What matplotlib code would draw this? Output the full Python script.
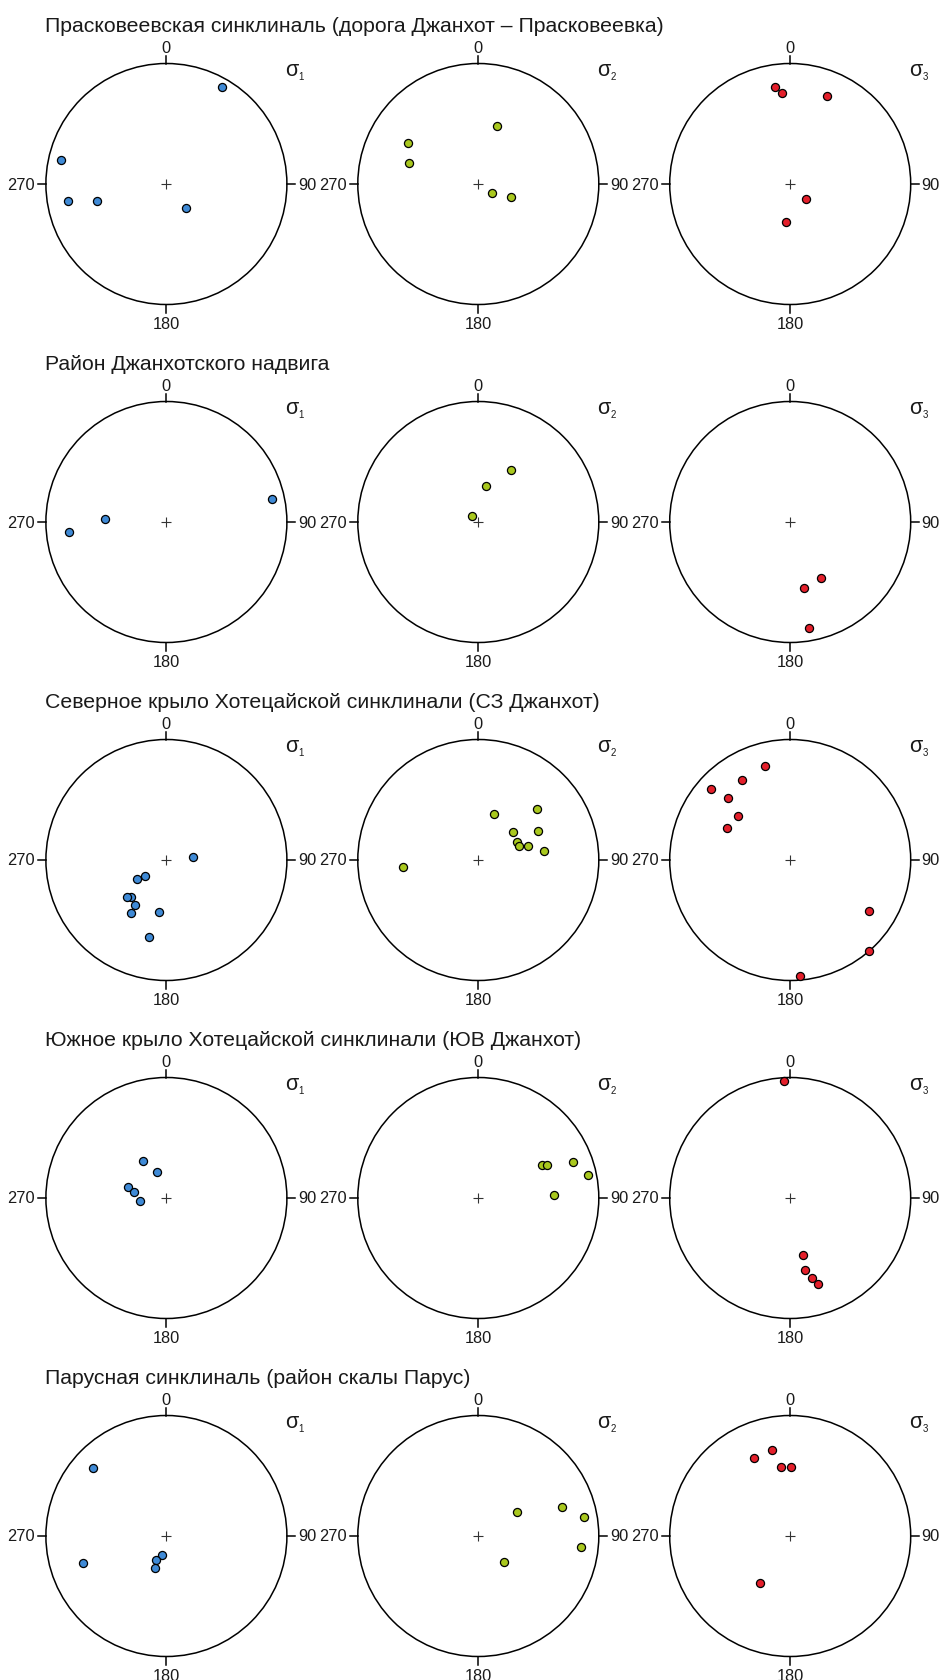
import numpy as np
import matplotlib
matplotlib.use("Agg")
import matplotlib.pyplot as plt
from matplotlib.patches import Circle

plt.rcParams["font.family"] = ["Liberation Sans", "DejaVu Sans"]

# ---- stress axes (trend / plunge, degrees), lower-hemisphere data ----
site_titles = [
    "Прасковеевская синклиналь (дорога Джанхот – Прасковеевка)",
    "Район Джанхотского надвига",
    "Северное крыло Хотецайской синклинали (СЗ Джанхот)",
    "Южное крыло Хотецайской синклинали (ЮВ Джанхот)",
    "Парусная синклиналь (район скалы Парус)",
]

prask_s1_trend = [30, 283, 260, 256, 140]
prask_s1_plunge = [8, 11, 18, 40, 69]
prask_s2_trend = [18, 300, 287, 125, 112]
prask_s2_plunge = [48, 33, 40, 79, 66]
prask_s3_trend = [351, 355, 23, 134, 186]
prask_s3_plunge = [20, 25, 22, 75, 64]

dzh_s1_trend = [273, 264, 78]
dzh_s1_plunge = [48, 20, 11]
dzh_s2_trend = [32, 12, 311]
dzh_s2_plunge = [48, 65, 84]
dzh_s3_trend = [151, 168, 170]
dzh_s3_plunge = [46, 43, 12]

north_s1_trend = [83, 232, 237, 224, 227, 215, 214, 188, 193]
north_s1_plunge = [72, 72, 66, 55, 53, 52, 46, 54, 35]
north_s2_trend = [19, 49, 51, 64, 65, 71, 74, 82, 265]
north_s2_plunge = [57, 36, 60, 44, 61, 61, 55, 44, 37]
north_s3_trend = [345, 329, 312, 315, 310, 297, 123, 139, 175]
north_s3_plunge = [20, 24, 13, 28, 43, 41, 23, 0, 4]

south_s1_trend = [328, 340, 286, 281, 263]
south_s1_plunge = [60, 71, 63, 68, 72]
south_s2_trend = [63, 64, 69, 78, 88]
south_s2_plunge = [40, 37, 17, 8, 37]
south_s3_trend = [357, 167, 168, 165, 162]
south_s3_plunge = [3, 50, 39, 32, 26]

parus_s1_trend = [313, 252, 192, 204, 199]
parus_s1_plunge = [18, 28, 77, 72, 67]
parus_s2_trend = [58, 71, 80, 96, 135]
parus_s2_plunge = [59, 27, 12, 15, 65]
parus_s3_trend = [348, 335, 352, 1, 213]
parus_s3_plunge = [28, 29, 42, 42, 52]

site_data = [
    [(prask_s1_trend, prask_s1_plunge), (prask_s2_trend, prask_s2_plunge), (prask_s3_trend, prask_s3_plunge)],
    [(dzh_s1_trend, dzh_s1_plunge), (dzh_s2_trend, dzh_s2_plunge), (dzh_s3_trend, dzh_s3_plunge)],
    [(north_s1_trend, north_s1_plunge), (north_s2_trend, north_s2_plunge), (north_s3_trend, north_s3_plunge)],
    [(south_s1_trend, south_s1_plunge), (south_s2_trend, south_s2_plunge), (south_s3_trend, south_s3_plunge)],
    [(parus_s1_trend, parus_s1_plunge), (parus_s2_trend, parus_s2_plunge), (parus_s3_trend, parus_s3_plunge)],
]

axis_names = ["1", "2", "3"]
axis_colors = ["#3F8AD6", "#A9C81E", "#E41F2B"]
compass_labels = ["0", "90", "180", "270"]


def schmidt(trend, plunge):
    """Equal-area (Schmidt) lower-hemisphere projection, unit primitive circle."""
    t = np.radians(np.asarray(trend, float))
    p = np.radians(np.asarray(plunge, float))
    r = np.sqrt(2.0) * np.sin((np.pi / 2 - p) / 2.0)
    return r * np.sin(t), r * np.cos(t)


W, H = 941, 1681
fig = plt.figure(figsize=(W / 100, H / 100), dpi=100)
fig.patch.set_facecolor("white")

R_PX = 120.5          # primitive circle radius in pixels
HALF = 140.0          # half-size of each axes box in pixels
col_cx = [166.4, 478.3, 790.2]
row_cy = [185, 523, 861, 1199, 1537]
lim = HALF / R_PX
tick = 8.0 / R_PX
txt_col = "#1a1a1a"

for i, (title, rows) in enumerate(zip(site_titles, site_data)):
    cy = row_cy[i]
    fig.text(45 / W, 1 - (cy - 158) / H, title, fontsize=15.3,
             color=txt_col, ha="left", va="center")
    for j, (trend, plunge) in enumerate(rows):
        cx = col_cx[j]
        ax = fig.add_axes([(cx - HALF) / W, (H - cy - HALF) / H,
                           2 * HALF / W, 2 * HALF / H])
        ax.set_xlim(-lim, lim)
        ax.set_ylim(-lim, lim)
        ax.set_aspect("equal")
        ax.axis("off")

        ax.add_patch(Circle((0, 0), 1.0, fill=False, lw=1.1, ec="black", zorder=2))
        # compass ticks
        ax.plot([0, 0], [1, 1 + tick], color="black", lw=1.1, clip_on=False)
        ax.plot([0, 0], [-1, -1 - tick], color="black", lw=1.1, clip_on=False)
        ax.plot([1, 1 + tick], [0, 0], color="black", lw=1.1, clip_on=False)
        ax.plot([-1, -1 - tick], [0, 0], color="black", lw=1.1, clip_on=False)
        g = 0.025
        ax.text(0, 1 + tick + g * 0.3, compass_labels[0], ha="center", va="bottom",
                fontsize=11.8, color=txt_col, clip_on=False)
        ax.text(1 + tick + g, 0, compass_labels[1], ha="left", va="center",
                fontsize=11.8, color=txt_col, clip_on=False)
        ax.text(0, -1 - tick - g, compass_labels[2], ha="center", va="top",
                fontsize=11.8, color=txt_col, clip_on=False)
        ax.text(-1 - tick - g, 0, compass_labels[3], ha="right", va="center",
                fontsize=11.8, color=txt_col, clip_on=False)
        # centre cross
        ax.plot(0, 0, marker="+", ms=7, mew=0.8, color="#333333", zorder=3)

        # principal stress axis label
        ax.text(0.985, 0.905, "σ", fontsize=15.5, ha="left", va="baseline",
                color=txt_col, clip_on=False)
        ax.annotate(axis_names[j], xy=(0.985, 0.905), xytext=(9.8, -3.2),
                    textcoords="offset points", fontsize=7, ha="left",
                    va="baseline", color=txt_col, annotation_clip=False)

        x, y = schmidt(trend, plunge)
        ax.scatter(x, y, s=34, c=axis_colors[j], edgecolors="black",
                   linewidths=0.9, zorder=4, clip_on=False)

fig.savefig("out.png", dpi=100)
